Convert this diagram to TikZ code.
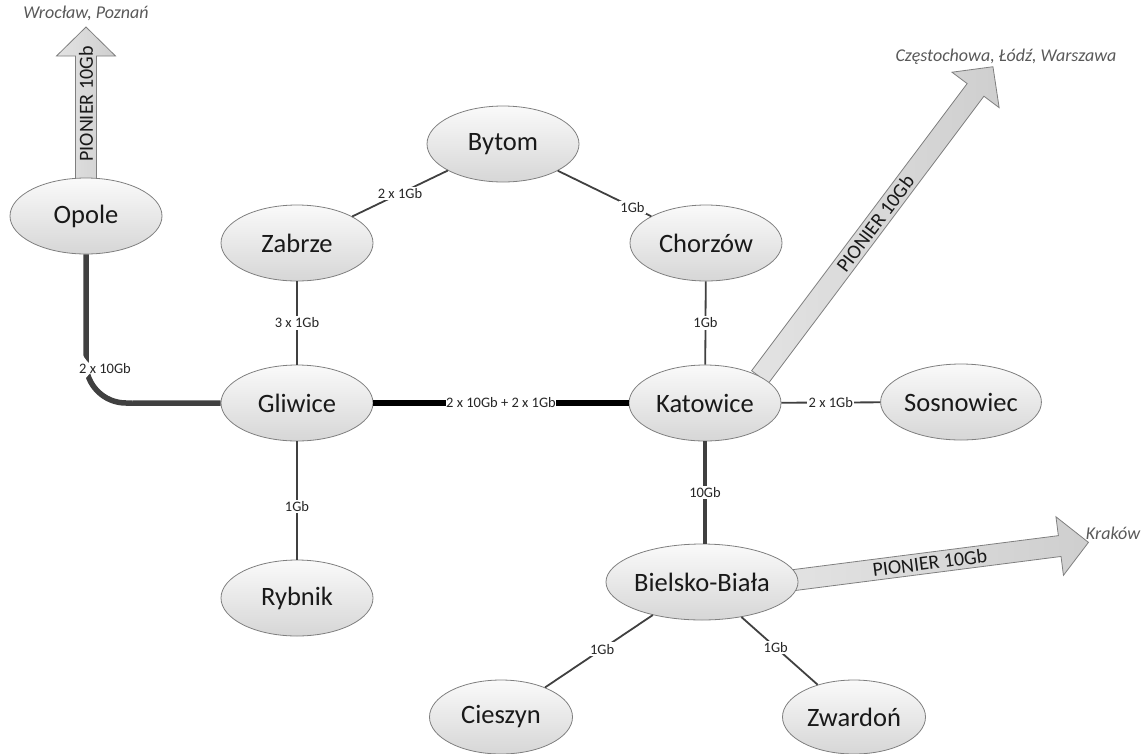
\documentclass[tikz,border=0pt]{standalone}
\usepackage{fontspec}
\setmainfont{Carlito}
\usetikzlibrary{calc,shapes.geometric}
\definecolor{linegray}{HTML}{404040}
\definecolor{bordergray}{HTML}{7F7F7F}
\definecolor{labelgray}{HTML}{595959}
\tikzset{
  city/.style={ellipse, draw=bordergray, line width=0.8pt, top color=gray!4, bottom color=gray!32,
    minimum width=152pt, minimum height=76pt, inner sep=0pt, font=\fontsize{26.5}{28}\selectfont, text=black!90},
  thinlink/.style={draw=linegray, line width=1.8pt},
  elabel/.style={fill=white, inner sep=1.5pt, font=\fontsize{14.5}{16}\selectfont, text=black!85},
  bigarrow/.style={draw=bordergray, line width=0.8pt, left color=gray!22, right color=gray!38},
  arrowtext/.style={font=\fontsize{20}{22}\selectfont, text=black!90, inner sep=0pt},
  dest/.style={font=\itshape\fontsize{18}{20}\selectfont, text=labelgray, inner sep=0pt}
}
\newcommand{\pionarrow}[5]{% start coord, angle, length, text position, name
  \begin{scope}[shift={(#1)}, rotate=#2]
    \path[bigarrow] (0,-10.5) -- (#3-29,-10.5) -- (#3-29,-29.5) -- (#3,0) -- (#3-29,29.5) -- (#3-29,10.5) -- (0,10.5) -- cycle;
    \node[arrowtext, rotate=#2] (#5) at (#4,0) {PIONIER 10Gb};
  \end{scope}}
\begin{document}
\begin{tikzpicture}[x=1pt,y=-1pt]
\useasboundingbox (0,0) rectangle (1146,753);
% anchor coordinates for arrows
\coordinate (opstart) at (86,200);
\coordinate (katstart) at (760,377);
\coordinate (bbstart) at (779,582);
% big arrows (drawn below the ellipses)
\pionarrow{opstart}{90}{173}{96}{a1}
\pionarrow{katstart}{53.1}{388}{192}{a2}
\pionarrow{bbstart}{7.3}{312}{152}{a3}
% cities
\node[city] (op)  at (86,216)  {Opole};
\node[city] (by)  at (503,144) {Bytom};
\node[city] (za)  at (297,243) {Zabrze};
\node[city] (ch)  at (706,243) {Chorzów};
\node[city] (gl)  at (297,403) {Gliwice};
\node[city] (ka)  at (705,403) {Katowice};
\node[city] (so)  at (961,402) {Sosnowiec};
\node[city, minimum width=158pt] (bb) at (702,582) {Bielsko-Biała};
\node[city] (ry)  at (297,598) {Rybnik};
\node[city, minimum width=143pt, minimum height=74pt] (ci) at (501,717) {Cieszyn};
\node[city, minimum width=143pt, minimum height=74pt] (zw) at (854,717) {Zwardoń};
% destination labels
\node[dest] (wr) at (86,13) {Wrocław, Poznań};
\node[dest] (cz) at (1006,57) {Częstochowa, Łódź, Warszawa};
\node[dest] (kr) at (1113,533) {Kraków};
% links
\draw[draw=linegray, line width=5.5pt, rounded corners=40pt] (op.south) |- (gl.west)
  node[elabel, pos=0.385, xshift=19pt] {2 x 10Gb};
\draw[draw=black, line width=6.5pt] (gl.east) -- node[elabel, inner sep=0.5pt] {2 x 10Gb + 2 x 1Gb} (ka.west);
\draw[draw=linegray, line width=4.5pt] (ka.south) -- node[elabel] {10Gb} (ka.south |- bb.north);
\draw[thinlink] (za) -- node[elabel] {2 x 1Gb} (by);
\draw[thinlink] (by) -- node[elabel, pos=0.8] {1Gb} (ch);
\draw[thinlink] (za) -- node[elabel] {3 x 1Gb} (gl);
\draw[thinlink] (ch) -- node[elabel] {1Gb} (ka);
\draw[thinlink] (ka) -- node[elabel] {2 x 1Gb} (so);
\draw[thinlink] (gl) -- node[elabel, pos=0.55] {1Gb} (ry);
\draw[thinlink] (bb) -- node[elabel, pos=0.47] {1Gb} (ci);
\draw[thinlink] (bb) -- node[elabel, pos=0.45] {1Gb} (zw);
\end{tikzpicture}
\end{document}
